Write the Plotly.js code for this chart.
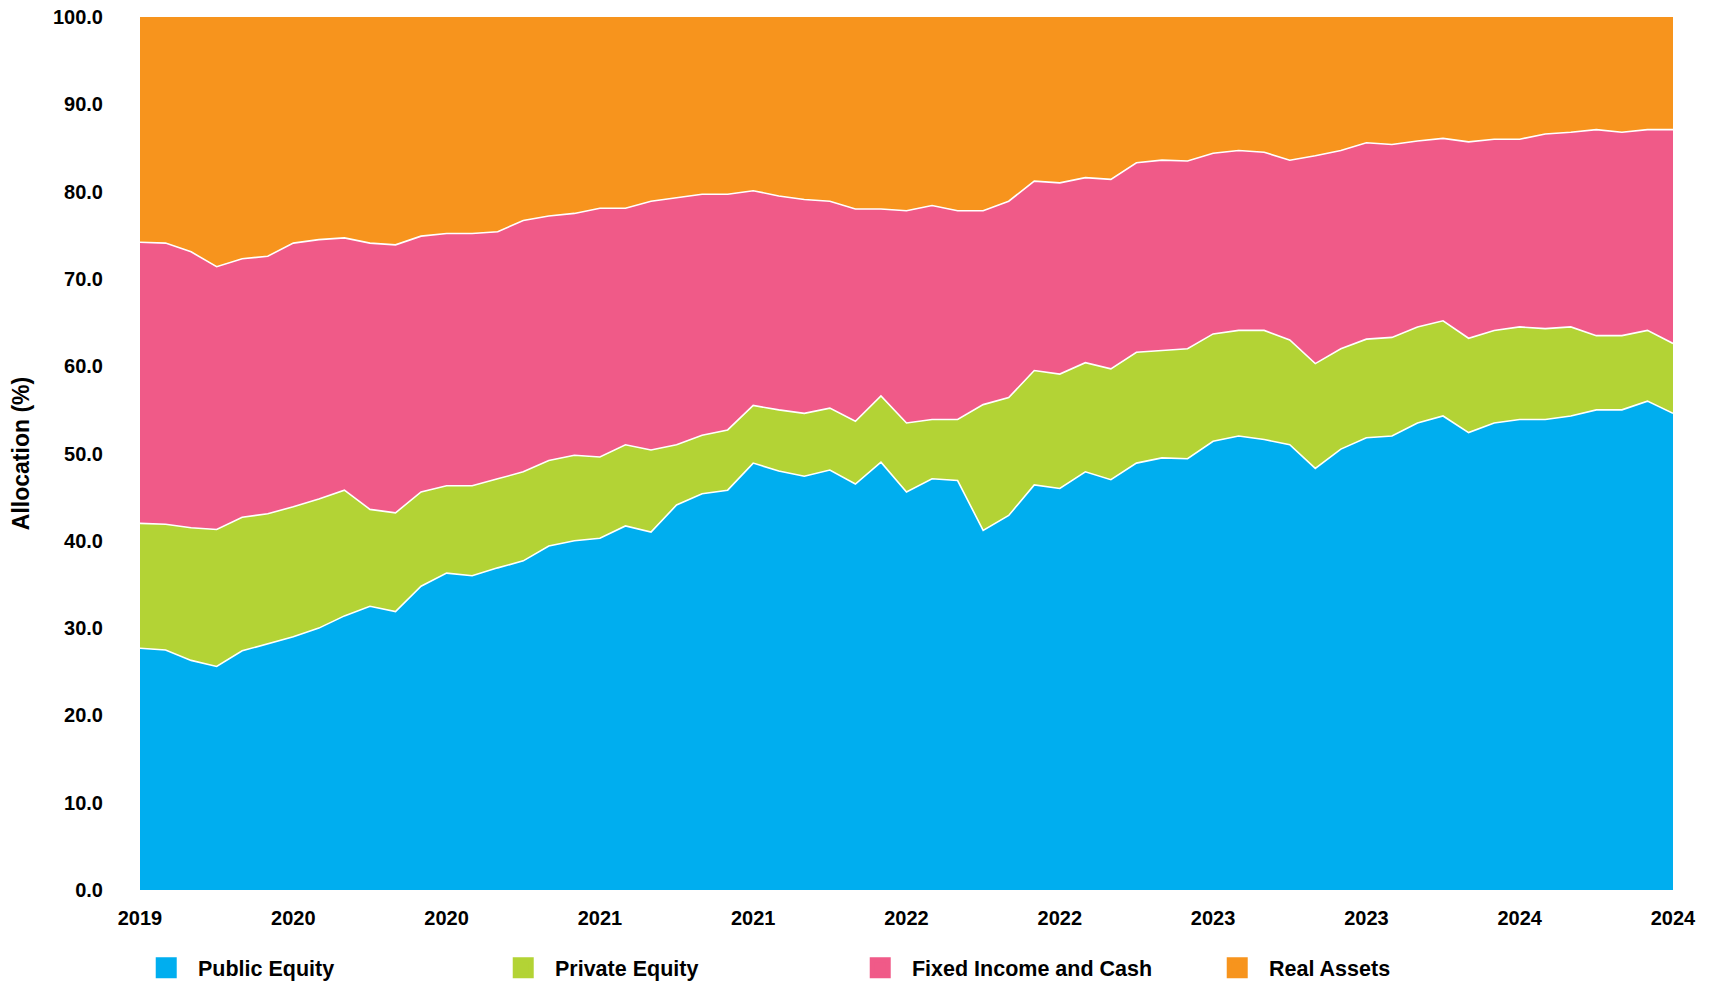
<!DOCTYPE html>
<html>
<head>
<meta charset="utf-8">
<script src="https://cdn.plot.ly/plotly-3.0.1.min.js"></script>
<style>
  html, body { margin: 0; padding: 0; background: #ffffff; }
  #chart { width: 1717px; height: 982px; }
</style>
</head>
<body>
<div id="chart"></div>
<script>
// Monthly observations (categories)
const months = [
  "2019-12","2020-01","2020-02","2020-03","2020-04","2020-05","2020-06","2020-07","2020-08","2020-09","2020-10","2020-11",
  "2020-12","2021-01","2021-02","2021-03","2021-04","2021-05","2021-06","2021-07","2021-08","2021-09","2021-10","2021-11",
  "2021-12","2022-01","2022-02","2022-03","2022-04","2022-05","2022-06","2022-07","2022-08","2022-09","2022-10","2022-11",
  "2022-12","2023-01","2023-02","2023-03","2023-04","2023-05","2023-06","2023-07","2023-08","2023-09","2023-10","2023-11",
  "2023-12","2024-01","2024-02","2024-03","2024-04","2024-05","2024-06","2024-07","2024-08","2024-09","2024-10","2024-11",
  "2024-12"
];

// Allocation (%) per asset class
const publicEquity = [
  27.7,27.5,26.3,25.6,27.4,28.2,29.0,30.0,31.4,32.5,31.9,34.8,
  36.3,36.0,36.9,37.7,39.4,40.0,40.3,41.7,41.0,44.1,45.4,45.8,
  48.9,48.0,47.4,48.1,46.5,49.0,45.6,47.1,46.9,41.2,42.9,46.4,
  46.0,47.9,47.0,48.9,49.5,49.4,51.4,52.0,51.6,51.0,48.3,50.5,
  51.8,52.0,53.5,54.3,52.4,53.5,53.9,53.9,54.3,55.0,55.0,56.0,
  54.6
];
const privateEquity = [
  14.3,14.4,15.2,15.7,15.3,14.9,14.9,14.8,14.4,11.1,11.3,10.8,
  10.0,10.3,10.2,10.2,9.8,9.8,9.3,9.3,9.4,6.9,6.7,6.9,
  6.6,7.0,7.2,7.1,7.2,7.6,7.9,6.8,7.0,14.4,13.5,13.1,
  13.1,12.5,12.7,12.7,12.3,12.6,12.3,12.1,12.5,12.0,12.0,11.5,
  11.3,11.3,11.0,10.9,10.8,10.6,10.6,10.4,10.2,8.5,8.5,8.1,
  8.0
];
const fixedIncomeCash = [
  32.2,32.2,31.6,30.1,29.6,29.5,30.2,29.7,28.9,30.5,30.7,29.3,
  28.9,28.9,28.3,28.8,28.0,27.7,28.5,27.1,28.5,28.3,27.6,27.0,
  24.6,24.5,24.5,23.7,24.3,21.4,24.3,24.5,23.9,22.2,22.5,21.7,
  21.9,21.2,21.7,21.7,21.8,21.5,20.7,20.6,20.4,20.6,23.8,22.7,
  22.5,22.1,21.3,20.9,22.5,21.9,21.5,22.3,22.3,23.6,23.3,23.0,
  24.5
];
const realAssets = [
  25.8,25.9,26.9,28.6,27.7,27.4,25.9,25.5,25.3,25.9,26.1,25.1,
  24.8,24.8,24.6,23.3,22.8,22.5,21.9,21.9,21.1,20.7,20.3,20.3,
  19.9,20.5,20.9,21.1,22.0,22.0,22.2,21.6,22.2,22.2,21.1,18.8,
  19.0,18.4,18.6,16.7,16.4,16.5,15.6,15.3,15.5,16.4,15.9,15.3,
  14.4,14.6,14.2,13.9,14.3,14.0,14.0,13.4,13.2,12.9,13.2,12.9,
  12.9
];

const seriesNames = ["Public Equity", "Private Equity", "Fixed Income and Cash", "Real Assets"];
const seriesValues = [publicEquity, privateEquity, fixedIncomeCash, realAssets];
const seriesColors = ["#00AEEF", "#B3D335", "#F05A88", "#F7941D"];

// x tick labels (every six months)
const tickMonths = ["2019-12","2020-06","2020-12","2021-06","2021-12","2022-06","2022-12","2023-06","2023-12","2024-06","2024-12"];
const tickLabels = ["2019","2020","2020","2021","2021","2022","2022","2023","2023","2024","2024"];

const FONT = "Arial, 'Liberation Sans', sans-serif";
const INK = "#000000";

const traces = [];
seriesValues.forEach((vals, i) => {
  traces.push({
    type: "scatter",
    mode: "lines",
    x: months,
    y: vals,
    name: seriesNames[i],
    stackgroup: "one",
    fillcolor: seriesColors[i],
    line: { color: "#ffffff", width: i === 3 ? 0 : 1.6 },
    showlegend: false,
    hoverinfo: "x+y+name"
  });
});
// legend swatches
seriesValues.forEach((vals, i) => {
  traces.push({
    type: "scatter",
    mode: "markers",
    x: [null],
    y: [null],
    name: seriesNames[i],
    marker: { symbol: "square", size: 16, color: seriesColors[i], line: { color: seriesColors[i], width: 5 } },
    showlegend: true,
    hoverinfo: "skip"
  });
});

const layout = {
  width: 1717,
  height: 982,
  paper_bgcolor: "#ffffff",
  plot_bgcolor: "#ffffff",
  margin: { l: 140, r: 44, t: 17, b: 92, autoexpand: false },
  font: { family: FONT, size: 20, color: INK, weight: "bold" },
  showlegend: true,
  xaxis: {
    type: "category",
    range: [0, months.length - 1],
    tickmode: "array",
    tickvals: tickMonths,
    ticktext: tickLabels,
    showgrid: false,
    zeroline: false,
    showline: false,
    ticks: "",
    ticklabelstandoff: 14,
    tickfont: { family: FONT, size: 20, color: INK, weight: "bold" },
    fixedrange: true
  },
  yaxis: {
    range: [0, 100],
    dtick: 10,
    tick0: 0,
    tickformat: ".1f",
    showgrid: false,
    zeroline: false,
    showline: false,
    ticks: "",
    ticklabelstandoff: 36,
    tickfont: { family: FONT, size: 20, color: INK, weight: "bold" },
    title: { text: "Allocation (%)", font: { family: FONT, size: 23, color: INK, weight: "bold" }, standoff: 16 },
    fixedrange: true
  },
  legend: {
    orientation: "h",
    traceorder: "normal",
    x: -0.0036,
    xanchor: "left",
    y: -0.089,
    yanchor: "middle",
    entrywidth: 288.5,
    entrywidthmode: "pixels",
    itemwidth: 53.5,
    font: { family: FONT, size: 21.5, color: INK, weight: "bold" },
    bgcolor: "rgba(0,0,0,0)"
  }
};

Plotly.newPlot("chart", traces, layout, { displayModeBar: false, staticPlot: true });
</script>
</body>
</html>
